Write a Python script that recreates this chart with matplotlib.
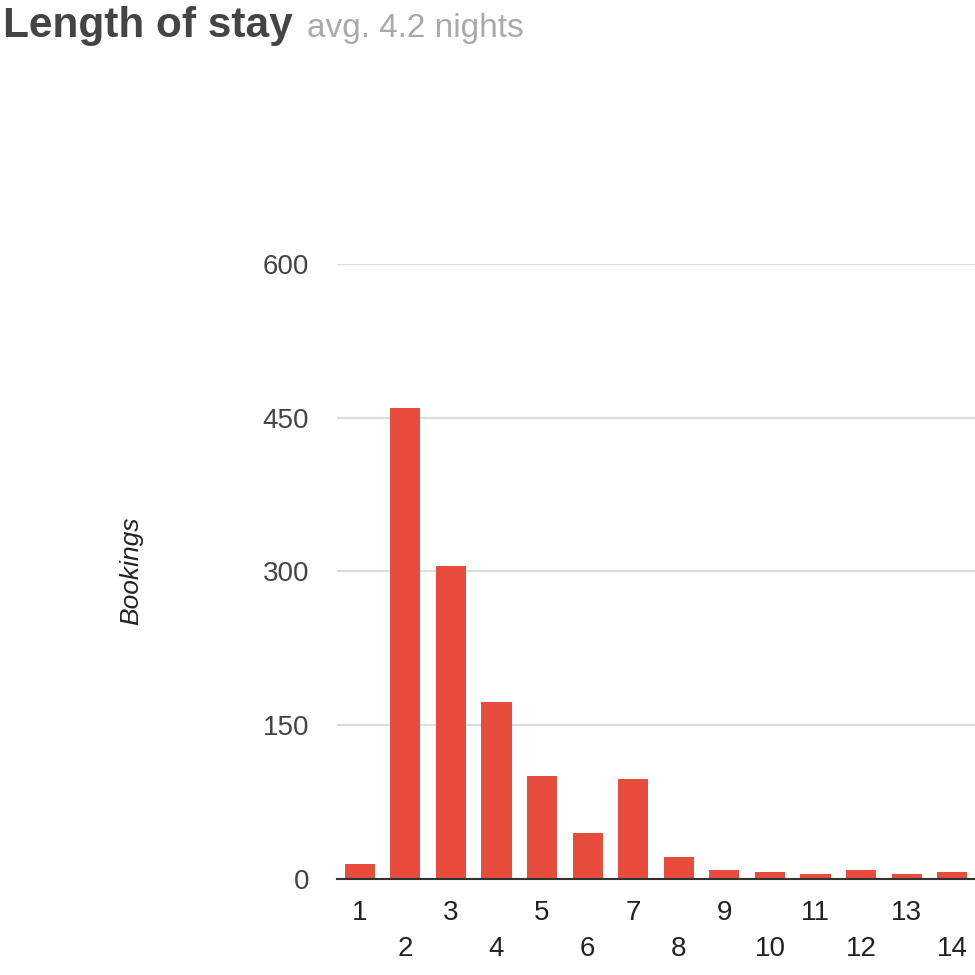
import matplotlib
matplotlib.use("Agg")
import matplotlib.pyplot as plt

plt.rcParams['font.family'] = ['Liberation Sans', 'DejaVu Sans']

# nights stayed and number of bookings
nights = list(range(1, 15))
bookings = [15, 460, 305, 173, 100, 45, 98, 21, 9, 7, 5, 9, 5, 7]
y_ticks = [0, 150, 300, 450, 600]

bar_color = "#e74c3c"
text_color = "#444444"

fig = plt.figure(figsize=(9.75, 9.75), dpi=100)
ax = fig.add_axes([0.3456, 0.0985, 0.6544, 0.6307])

ax.bar(nights, bookings, width=0.66, color=bar_color, zorder=2)
ax.set_xlim(0.5, 14.5)
ax.set_ylim(0, 600)

ax.set_yticks(y_ticks)
ax.set_yticklabels([str(t) for t in y_ticks])
ax.yaxis.grid(True, color="#dddddd", linewidth=1.6, zorder=0)
ax.tick_params(axis="y", length=0, pad=20, labelsize=20, labelcolor=text_color)

# odd labels on the first row, even ones pushed to a second row
ax.set_xticks(nights)
ax.set_xticklabels([str(n) if n % 2 else "\n" + str(n) for n in nights],
                   linespacing=1.5)
ax.tick_params(axis="x", length=0, pad=15, labelsize=20, labelcolor="#222222")

for side in ["top", "right", "left"]:
    ax.spines[side].set_visible(False)
ax.spines["bottom"].set_color("#333333")
ax.spines["bottom"].set_linewidth(1.5)
ax.spines["bottom"].set_zorder(3)

fig.text(131 / 975, 1 - 571 / 975, "Bookings", rotation=90, style="italic",
         fontsize=19, color="#222222", ha="center", va="center")

# title with lighter subtitle right after it
title = fig.text(3 / 975, 1 - 37 / 975, "Length of stay", fontsize=30.5,
                 fontweight="bold", color="#444444", ha="left", va="baseline")
fig.canvas.draw()
bb = title.get_window_extent(fig.canvas.get_renderer())
fig.text((bb.x1 + 14) / 975, 1 - 37 / 975, "avg. 4.2 nights", fontsize=24,
         color="#aaaaaa", ha="left", va="baseline")

fig.savefig("out.png", dpi=100, facecolor="white")
